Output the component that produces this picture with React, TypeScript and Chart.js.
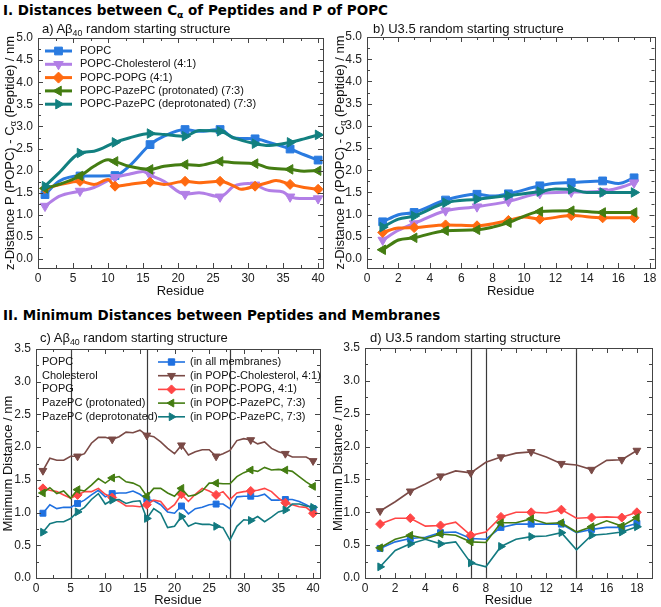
import React, { useEffect, useRef } from 'react';
import { Chart, registerables } from 'chart.js';
Chart.register(...registerables);

const FONT = '"Liberation Sans", Arial, sans-serif';

// ---------- Panel a: z-distance, Aβ40 ----------
const aMarkerResidues = [1, 6, 11, 16, 21, 26, 31, 36, 40];
const aPopcRes = [1, 3, 6, 8, 11, 13, 16, 18, 21, 23, 26, 28, 31, 33, 36, 38, 40];
const aPopcVal = [1.46, 1.76, 1.88, 1.88, 1.89, 2.10, 2.59, 2.78, 2.93, 2.89, 2.93, 2.74, 2.72, 2.64, 2.49, 2.36, 2.24];
const aCholRes = [1, 3, 6, 8, 11, 13, 15, 16, 18, 21, 23, 26, 28, 30, 31, 33, 35, 36, 38, 40];
const aCholVal = [1.20, 1.42, 1.54, 1.62, 1.85, 1.92, 1.98, 1.90, 1.76, 1.47, 1.50, 1.41, 1.65, 1.71, 1.68, 1.55, 1.52, 1.41, 1.37, 1.37];
const aPopgRes = [1, 3, 6, 8, 10, 11, 13, 16, 18, 21, 23, 26, 28, 29, 31, 33, 34, 36, 38, 40];
const aPopgVal = [1.60, 1.68, 1.76, 1.69, 1.80, 1.65, 1.69, 1.74, 1.69, 1.76, 1.73, 1.76, 1.65, 1.58, 1.65, 1.74, 1.78, 1.69, 1.62, 1.58];
const aProtRes = [1, 3, 6, 8, 10, 11, 13, 16, 18, 21, 23, 26, 28, 31, 33, 36, 38, 40];
const aProtVal = [1.60, 1.69, 1.88, 2.10, 2.25, 2.21, 2.10, 2.03, 2.10, 2.14, 2.12, 2.21, 2.18, 2.16, 2.06, 2.03, 1.99, 2.00];
const aDeprRes = [1, 3, 6, 8, 11, 13, 16, 18, 21, 23, 26, 28, 31, 33, 36, 38, 40];
const aDeprVal = [1.65, 1.95, 2.40, 2.44, 2.64, 2.74, 2.84, 2.82, 2.78, 2.91, 2.89, 2.74, 2.61, 2.57, 2.64, 2.72, 2.81];

// ---------- Panel b: z-distance, U3.5 ----------
const bMarkerResidues = [1, 3, 5, 7, 9, 11, 13, 15, 17];
const bPopcRes = [1, 2, 3, 5, 7, 8, 9, 11, 12, 13, 15, 16, 17];
const bPopcVal = [0.84, 1.00, 1.05, 1.33, 1.46, 1.42, 1.47, 1.65, 1.71, 1.72, 1.76, 1.70, 1.83];
const bCholRes = [1, 2, 3, 5, 7, 9, 11, 13, 15, 16, 17];
const bCholVal = [0.43, 0.65, 0.80, 1.09, 1.18, 1.30, 1.48, 1.51, 1.53, 1.60, 1.72];
const bPopgRes = [1, 2, 3, 5, 7, 9, 10, 11, 13, 15, 17];
const bPopgVal = [0.60, 0.70, 0.71, 0.77, 0.75, 0.87, 0.95, 0.90, 0.98, 0.93, 0.93];
const bProtRes = [1, 2, 3, 5, 7, 8, 9, 11, 13, 15, 17];
const bProtVal = [0.21, 0.43, 0.48, 0.64, 0.66, 0.72, 0.82, 1.07, 1.09, 1.05, 1.05];
const bDeprRes = [1, 2, 3, 5, 7, 9, 11, 12, 13, 14, 15, 17];
const bDeprVal = [0.72, 0.90, 0.97, 1.27, 1.35, 1.43, 1.52, 1.58, 1.57, 1.50, 1.50, 1.50];

// ---------- Panel c: minimum distance, Aβ40 ----------
const cResidues = [1, 2, 3, 4, 5, 6, 7, 8, 9, 10, 11, 12, 13, 14, 15, 16, 17, 18, 19, 20, 21, 22, 23, 24, 25, 26, 27, 28, 29, 30, 31, 32, 33, 34, 35, 36, 37, 38, 39, 40];
const cMarkerResidues = [1, 6, 11, 16, 21, 26, 31, 36, 40];
const cPopc = [0.99, 1.12, 1.06, 1.08, 1.08, 1.14, 1.19, 1.27, 1.34, 1.24, 1.29, 1.30, 1.30, 1.33, 1.28, 1.20, 1.18, 1.12, 1.01, 0.99, 1.10, 0.98, 1.06, 1.08, 1.12, 1.13, 1.13, 1.06, 1.24, 1.25, 1.25, 1.25, 1.28, 1.19, 1.19, 1.20, 1.20, 1.17, 1.12, 1.06];
const cChol = [1.64, 1.83, 1.80, 1.80, 1.86, 1.86, 1.90, 2.06, 2.15, 2.15, 2.12, 2.16, 2.23, 2.22, 2.26, 2.18, 2.16, 2.08, 1.98, 1.90, 2.03, 1.88, 1.93, 1.96, 1.96, 1.86, 1.90, 1.95, 2.10, 2.13, 2.11, 2.05, 2.08, 1.98, 1.93, 1.90, 1.85, 1.85, 1.85, 1.79];
const cPopg = [1.37, 1.34, 1.32, 1.27, 1.22, 1.27, 1.32, 1.32, 1.37, 1.28, 1.23, 1.17, 1.10, 1.10, 1.09, 1.12, 1.19, 1.17, 1.04, 1.12, 1.28, 1.17, 1.28, 1.37, 1.33, 1.27, 1.32, 1.20, 1.30, 1.32, 1.33, 1.34, 1.37, 1.32, 1.22, 1.15, 1.12, 1.09, 1.08, 0.99];
const cProt = [1.30, 1.38, 1.29, 1.33, 1.22, 1.35, 1.33, 1.42, 1.52, 1.45, 1.53, 1.55, 1.47, 1.45, 1.40, 1.25, 1.37, 1.37, 1.30, 1.25, 1.37, 1.25, 1.27, 1.33, 1.45, 1.45, 1.44, 1.44, 1.55, 1.61, 1.65, 1.63, 1.69, 1.65, 1.66, 1.65, 1.63, 1.55, 1.47, 1.40];
const cDepr = [0.70, 0.83, 0.86, 0.86, 0.91, 1.01, 1.08, 1.20, 1.29, 1.13, 1.19, 1.20, 1.14, 1.17, 1.18, 0.91, 1.06, 0.99, 0.77, 0.79, 0.94, 0.79, 0.84, 0.82, 0.82, 0.79, 0.77, 0.58, 0.79, 0.89, 0.88, 0.94, 0.86, 0.93, 1.01, 1.04, 1.13, 1.13, 1.10, 1.08];
const cVerticalLines = [5, 16, 28];

// ---------- Panel d: minimum distance, U3.5 ----------
const dResidues = [1, 2, 3, 4, 5, 6, 7, 8, 9, 10, 11, 12, 13, 14, 15, 16, 17, 18];
const dMarkerResidues = [1, 3, 5, 7, 9, 11, 13, 15, 17, 18];
const dPopc = [0.45, 0.55, 0.60, 0.62, 0.69, 0.70, 0.60, 0.59, 0.77, 0.82, 0.82, 0.82, 0.82, 0.69, 0.74, 0.77, 0.77, 0.83];
const dChol = [1.02, 1.16, 1.32, 1.43, 1.55, 1.63, 1.60, 1.76, 1.84, 1.90, 1.92, 1.84, 1.74, 1.72, 1.65, 1.79, 1.80, 1.94];
const dPopg = [0.82, 0.91, 0.91, 0.79, 0.80, 0.85, 0.65, 0.70, 0.93, 1.00, 1.00, 0.99, 1.04, 0.91, 0.92, 0.93, 0.92, 1.00];
const dProt = [0.46, 0.59, 0.65, 0.60, 0.67, 0.65, 0.55, 0.54, 0.84, 0.84, 0.90, 0.83, 0.84, 0.70, 0.78, 0.87, 0.79, 0.92];
const dDepr = [0.17, 0.42, 0.52, 0.59, 0.52, 0.55, 0.23, 0.17, 0.48, 0.59, 0.63, 0.64, 0.69, 0.43, 0.65, 0.67, 0.70, 0.78];
const dVerticalLines = [7, 8, 14];

// ---------- Legend labels ----------
const zLegendLabels = ['POPC', 'POPC-Cholesterol (4:1)', 'POPC-POPG (4:1)', 'POPC-PazePC (protonated) (7:3)', 'POPC-PazePC (deprotonated) (7:3)'];
const minLipidLabels = ['POPC', 'Cholesterol', 'POPG', 'PazePC (protonated)', 'PazePC (deprotonated)'];
const minContextLabels = ['(in all membranes)', '(in POPC-Cholesterol, 4:1)', '(in POPC-POPG, 4:1)', '(in POPC-PazePC, 7:3)', '(in POPC-PazePC, 7:3)'];

// styles
const zColors = ['#2a7be0', '#b27fe6', '#ff6a10', '#447d12', '#128080'];
const mColors = ['#1f70e0', '#7a4a46', '#ff4646', '#447d12', '#137a80'];
const markerStyles = ['rect', 'triangle', 'rectRot', 'triangle', 'triangle'];
const markerRot = [0, 180, 0, 270, 90];

type Seg = { t: string; sub?: boolean };

function drawMarker(ctx: CanvasRenderingContext2D, style: string, rotDeg: number, x: number, y: number, r: number) {
  ctx.beginPath();
  if (style === 'rect') {
    const s = Math.SQRT1_2 * r;
    ctx.rect(x - s, y - s, 2 * s, 2 * s);
  } else if (style === 'rectRot') {
    ctx.moveTo(x - r, y); ctx.lineTo(x, y - r); ctx.lineTo(x + r, y); ctx.lineTo(x, y + r); ctx.closePath();
  } else {
    let a = (rotDeg * Math.PI) / 180;
    for (let i = 0; i < 3; i++) {
      const px = x + Math.sin(a) * r, py = y - Math.cos(a) * r;
      if (i === 0) ctx.moveTo(px, py); else ctx.lineTo(px, py);
      a += (2 * Math.PI) / 3;
    }
    ctx.closePath();
  }
  ctx.fill();
  ctx.stroke();
}

function decor(cfg: any) {
  return {
    id: 'decor',
    beforeDatasetsDraw(chart: any) {
      const { ctx, chartArea: ca, scales } = chart;
      if (cfg.vlines) {
        ctx.save();
        ctx.strokeStyle = '#3a3a3a';
        ctx.lineWidth = 1.2;
        cfg.vlines.forEach((v: number) => {
          const px = Math.round(scales.x.getPixelForValue(v)) + 0.5;
          ctx.beginPath(); ctx.moveTo(px, ca.top); ctx.lineTo(px, ca.bottom); ctx.stroke();
        });
        ctx.restore();
      }
    },
    afterDraw(chart: any) {
      const { ctx, chartArea: ca, scales } = chart;
      const xs = scales.x, ys = scales.y;
      ctx.save();
      ctx.strokeStyle = '#444';
      ctx.lineWidth = 1;
      ctx.strokeRect(Math.round(ca.left) + 0.5, Math.round(ca.top) + 0.5, Math.round(ca.right - ca.left), Math.round(ca.bottom - ca.top));
      const near = (a: number, b: number) => Math.abs(a / b - Math.round(a / b)) < 1e-6;
      ctx.beginPath();
      for (let v = Math.ceil(xs.min / cfg.xMinor - 1e-9) * cfg.xMinor; v <= xs.max + 1e-9; v += cfg.xMinor) {
        const px = Math.round(xs.getPixelForValue(v)) + 0.5;
        const L = near(v, cfg.xMajor) ? 5 : 3;
        ctx.moveTo(px, ca.bottom); ctx.lineTo(px, ca.bottom - L);
        ctx.moveTo(px, ca.top); ctx.lineTo(px, ca.top + L);
      }
      for (let v = Math.ceil(ys.min / cfg.yMinor - 1e-9) * cfg.yMinor; v <= ys.max + 1e-9; v += cfg.yMinor) {
        const py = Math.round(ys.getPixelForValue(v)) + 0.5;
        const L = near(v, cfg.yMajor) ? 5 : 3;
        ctx.moveTo(ca.left, py); ctx.lineTo(ca.left + L, py);
        ctx.moveTo(ca.right, py); ctx.lineTo(ca.right - L, py);
      }
      ctx.stroke();

      // y title with subscripts
      const segs: Seg[] = cfg.yTitle;
      const fMain = `13px ${FONT}`, fSub = `9px ${FONT}`;
      let total = 0;
      segs.forEach((s) => { ctx.font = s.sub ? fSub : fMain; total += ctx.measureText(s.t).width; });
      ctx.translate(cfg.yTitleX, (ca.top + ca.bottom) / 2);
      ctx.rotate(-Math.PI / 2);
      ctx.fillStyle = '#111';
      ctx.textBaseline = 'middle';
      ctx.textAlign = 'left';
      let cx = -total / 2;
      segs.forEach((s) => {
        ctx.font = s.sub ? fSub : fMain;
        ctx.fillText(s.t, cx, s.sub ? 3.5 : 0);
        cx += ctx.measureText(s.t).width;
      });
      ctx.restore();

      // legend
      const lg = cfg.legend;
      if (lg) {
        ctx.save();
        ctx.font = `11px ${FONT}`;
        ctx.textBaseline = 'middle';
        lg.items.forEach((it: any, i: number) => {
          const y = lg.y0 + i * lg.dy;
          ctx.strokeStyle = it.color;
          ctx.fillStyle = it.color;
          ctx.lineWidth = lg.lw;
          ctx.beginPath(); ctx.moveTo(lg.x0, y); ctx.lineTo(lg.x1, y); ctx.stroke();
          ctx.lineWidth = 1;
          drawMarker(ctx, it.style, it.rot, (lg.x0 + lg.x1) / 2, y, it.r);
          ctx.fillStyle = '#111';
          ctx.fillText(it.text, lg.textX, y);
          if (it.left) ctx.fillText(it.left, lg.leftX, y);
        });
        ctx.restore();
      }
    },
  };
}

function buildConfig(p: any) {
  const datasets = p.series.map((s: any) => ({
    data: s.res.map((x: number, i: number) => ({ x, y: s.val[i] })),
    borderColor: s.color,
    backgroundColor: s.color,
    pointBackgroundColor: s.color,
    pointBorderColor: s.color,
    borderWidth: p.lw,
    pointStyle: s.style,
    pointRotation: s.rot,
    pointRadius: s.res.map((x: number) => (p.markers.includes(x) ? s.r : 0)),
    pointHoverRadius: 0,
    pointBorderWidth: 1,
    cubicInterpolationMode: p.smooth ? 'monotone' : 'default',
    tension: p.smooth ? 0.4 : 0,
  })).reverse();
  return {
    type: 'line',
    data: { datasets },
    options: {
      responsive: false,
      animation: false,
      events: [],
      layout: { padding: { top: p.padTop, right: p.padRight, left: 0, bottom: 0 } },
      plugins: { legend: { display: false }, tooltip: { enabled: false } },
      scales: {
        x: {
          type: 'linear', min: p.xMin, max: p.xMax,
          grid: { display: false, drawTicks: false }, border: { display: false },
          ticks: { stepSize: p.xStep, includeBounds: false, autoSkip: false, maxRotation: 0, padding: 3, color: '#222', font: { size: 12, family: FONT }, callback: (v: any) => String(v) },
          title: { display: true, text: 'Residue', color: '#111', font: { size: 13, family: FONT, lineHeight: 1 }, padding: { top: 0, bottom: p.xTitlePad } },
          afterFit: (s: any) => { s.height = p.xAxisH; },
        },
        y: {
          type: 'linear', min: p.yMin, max: p.yMax,
          grid: { display: false, drawTicks: false }, border: { display: false },
          ticks: { stepSize: p.yStep, includeBounds: false, autoSkip: false, padding: 5, color: '#222', font: { size: 12, family: FONT }, callback: (v: any) => Number(v).toFixed(1) },
          afterFit: (s: any) => { s.width = p.yAxisW; },
        },
      },
    },
    plugins: [decor(p.decor)],
  };
}

function Panel({ left, top, width, height, spec }: any) {
  const ref = useRef<HTMLCanvasElement>(null);
  useEffect(() => {
    const chart = new Chart(ref.current as HTMLCanvasElement, buildConfig(spec) as any);
    return () => chart.destroy();
  }, []);
  return (
    <canvas ref={ref} width={width} height={height}
      style={{ position: 'absolute', left, top, width, height, display: 'block' }} />
  );
}

function zSeries(resArr: number[][], valArr: number[][], r: number) {
  return resArr.map((res, i) => ({ res, val: valArr[i], color: zColors[i], style: markerStyles[i], rot: markerRot[i], r: markerStyles[i] === 'rectRot' ? r - 0.5 : r }));
}
function mSeries(res: number[], valArr: number[][], r: number) {
  return valArr.map((val, i) => ({ res, val, color: mColors[i], style: markerStyles[i], rot: markerRot[i], r: markerStyles[i] === 'rect' ? r - 0.3 : r }));
}

const zTitle: Seg[] = [{ t: 'z-Distance P (POPC) - C' }, { t: 'α', sub: true }, { t: ' (Peptide) / nm' }];
const mTitle: Seg[] = [{ t: 'Minimum Distance / nm' }];

const specA = {
  series: zSeries([aPopcRes, aCholRes, aPopgRes, aProtRes, aDeprRes], [aPopcVal, aCholVal, aPopgVal, aProtVal, aDeprVal], 5.5),
  markers: aMarkerResidues, lw: 3, smooth: true,
  xMin: 0, xMax: 40.7, xStep: 5, yMin: -0.2, yMax: 5, yStep: 0.5,
  padTop: 18, padRight: 7, yAxisW: 38, xAxisH: 32, xTitlePad: 2,
  decor: {
    xMajor: 5, xMinor: 2.5, yMajor: 0.5, yMinor: 0.25, yTitle: zTitle, yTitleX: 10,
    legend: {
      x0: 45, x1: 72, textX: 80, y0: 31, dy: 13.3, lw: 3,
      items: zLegendLabels.map((t, i) => ({ text: t, color: zColors[i], style: markerStyles[i], rot: markerRot[i], r: 5.5 })),
    },
  },
};

const specB = {
  series: zSeries([bPopcRes, bCholRes, bPopgRes, bProtRes, bDeprRes], [bPopcVal, bCholVal, bPopgVal, bProtVal, bDeprVal], 5.5),
  markers: bMarkerResidues, lw: 3, smooth: true,
  xMin: 0, xMax: 18.3, xStep: 2, yMin: -0.2, yMax: 5, yStep: 0.5,
  padTop: 17, padRight: 6, yAxisW: 37, xAxisH: 32, xTitlePad: 2,
  decor: { xMajor: 2, xMinor: 1, yMajor: 0.5, yMinor: 0.25, yTitle: zTitle, yTitleX: 10 },
};

const specC = {
  series: mSeries(cResidues, [cPopc, cChol, cPopg, cProt, cDepr], 4.5),
  markers: cMarkerResidues, lw: 1.6, smooth: false,
  xMin: 0, xMax: 41, xStep: 5, yMin: 0, yMax: 3.5, yStep: 0.5,
  padTop: 19, padRight: 10, yAxisW: 36, xAxisH: 29, xTitlePad: 0,
  decor: {
    xMajor: 5, xMinor: 2.5, yMajor: 0.5, yMinor: 0.25, yTitle: mTitle, yTitleX: 8, vlines: cVerticalLines,
    legend: {
      x0: 158, x1: 185, textX: 190, leftX: 42, y0: 32, dy: 13.7, lw: 1.6,
      items: minContextLabels.map((t, i) => ({ text: t, left: minLipidLabels[i], color: mColors[i], style: markerStyles[i], rot: markerRot[i], r: 4.5 })),
    },
  },
};

const specD = {
  series: mSeries(dResidues, [dPopc, dChol, dPopg, dProt, dDepr], 4.5),
  markers: dMarkerResidues, lw: 1.6, smooth: false,
  xMin: 0, xMax: 19, xStep: 2, yMin: 0, yMax: 3.5, yStep: 0.5,
  padTop: 18, padRight: 9, yAxisW: 35, xAxisH: 29, xTitlePad: 0,
  decor: { xMajor: 2, xMinor: 1, yMajor: 0.5, yMinor: 0.25, yTitle: mTitle, yTitleX: 8, vlines: dVerticalLines },
};

const headStyle = (top: number): React.CSSProperties => ({
  position: 'absolute', left: 3, top, fontFamily: '"DejaVu Sans", Verdana, sans-serif', fontWeight: 'bold',
  fontSize: 13.5, lineHeight: '16px', color: '#000', whiteSpace: 'nowrap',
});
const subStyle = (left: number, top: number): React.CSSProperties => ({
  position: 'absolute', left, top, fontFamily: FONT, fontSize: 13, lineHeight: '16px', color: '#111', whiteSpace: 'nowrap',
});
const subScript: React.CSSProperties = { fontSize: '0.68em', verticalAlign: '-0.3em', lineHeight: 0 };

export default function App() {
  return (
    <div style={{ position: 'absolute', left: 0, top: 0, width: 661, height: 607, background: '#fff', overflow: 'hidden' }}>
      <Panel left={0} top={20} width={330} height={280} spec={specA} />
      <Panel left={330} top={20} width={331} height={280} spec={specB} />
      <Panel left={0} top={330} width={330} height={277} spec={specC} />
      <Panel left={330} top={330} width={331} height={277} spec={specD} />
      <div style={headStyle(2)}>I. Distances between C<sub style={subScript}>α</sub> of Peptides and P of POPC</div>
      <div style={headStyle(307)}>II. Minimum Distances between Peptides and Membranes</div>
      <div style={subStyle(42, 21)}>a) Aβ<sub style={subScript}>40</sub> random starting structure</div>
      <div style={subStyle(373, 21)}>b) U3.5 random starting structure</div>
      <div style={subStyle(40, 330)}>c) Aβ<sub style={subScript}>40</sub> random starting structure</div>
      <div style={subStyle(370, 330)}>d) U3.5 random starting structure</div>
    </div>
  );
}
